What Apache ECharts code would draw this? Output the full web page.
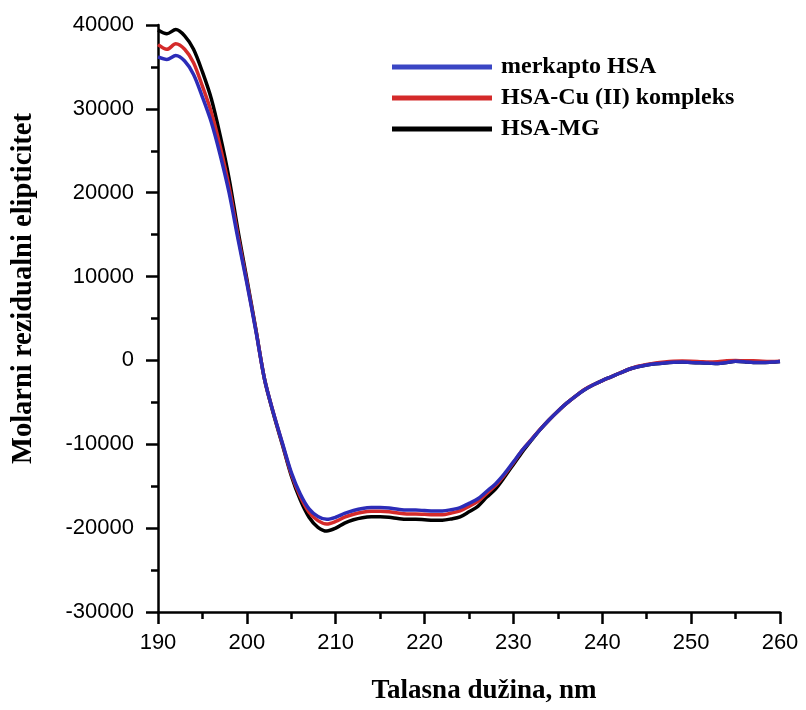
<!DOCTYPE html>
<html>
<head>
<meta charset="utf-8">
<script src="https://cdn.jsdelivr.net/npm/echarts@6/dist/echarts.min.js"></script>
<style>html,body{margin:0;padding:0;background:#fff;}#c{width:806px;height:710px;}</style>
</head>
<body>
<div id="c"></div>
<script>
const wavelength = [190,191,192,193,194,195,196,197,198,199,200,201,202,203,204,205,206,207,208,209,210,211,212,213,214,215,216,217,218,219,220,221,222,223,224,225,226,227,228,229,230,231,232,233,234,235,236,237,238,239,240,241,242,243,244,245,246,247,248,249,250,251,252,253,254,255,256,257,258,259,260];

const merkaptoHSA = [36200,35900,36350,35700,34100,31400,28400,24500,20000,14500,9200,3600,-2300,-6300,-9850,-13350,-15900,-17700,-18600,-18950,-18700,-18250,-17900,-17650,-17550,-17550,-17600,-17750,-17850,-17850,-17900,-17950,-17950,-17800,-17550,-17050,-16500,-15600,-14700,-13500,-12100,-10700,-9500,-8250,-7100,-6050,-5100,-4250,-3500,-2900,-2400,-1950,-1500,-1050,-750,-550,-400,-300,-230,-200,-250,-280,-320,-360,-250,-100,-150,-250,-250,-200,-120];

const hsaCu = [37650,37100,37750,37100,35500,32700,29600,25500,20700,14900,9400,3700,-2300,-6300,-9950,-13550,-16200,-18100,-19100,-19500,-19200,-18700,-18350,-18100,-18000,-18000,-18050,-18200,-18300,-18300,-18350,-18400,-18400,-18200,-17950,-17400,-16800,-15850,-14900,-13650,-12200,-10700,-9450,-8230,-7100,-6050,-5100,-4250,-3450,-2900,-2400,-1950,-1480,-1050,-700,-480,-300,-180,-100,-80,-100,-150,-200,-150,-50,0,-50,-50,-100,-120,-100];

const hsaMG = [39400,38950,39450,38700,37100,34400,31200,26800,21700,15500,9700,3800,-2300,-6400,-10050,-13750,-16600,-18700,-19900,-20350,-20000,-19400,-19000,-18750,-18650,-18650,-18700,-18850,-18950,-18950,-19000,-19050,-19050,-18900,-18650,-18050,-17400,-16300,-15300,-13900,-12400,-10900,-9550,-8250,-7100,-6050,-5100,-4250,-3500,-2900,-2400,-1950,-1500,-1050,-750,-550,-400,-300,-230,-200,-250,-280,-320,-360,-250,-100,-150,-250,-250,-200,-120];

const seriesNames = ['merkapto HSA', 'HSA-Cu (II) kompleks', 'HSA-MG'];
const xTitle = 'Talasna dužina, nm';
const yTitle = 'Molarni rezidualni elipticitet';

function pairs(vals){ return wavelength.map((w,i)=>[w, vals[i]]); }

const chart = echarts.init(document.getElementById('c'));
const axisCommon = {
  axisLine: {show: true, onZero: false, lineStyle: {color: '#000', width: 2.5}},
  axisTick: {show: true, inside: false, length: 12, lineStyle: {color: '#000', width: 2.5}},
  minorTick: {show: true, splitNumber: 2, length: 7, lineStyle: {color: '#000', width: 2.5}},
  splitLine: {show: false},
  nameLocation: 'middle'
};
chart.setOption({
  backgroundColor: '#fff',
  animation: false,
  grid: {left: 158, right: 26, top: 25, bottom: 97, containLabel: false},
  legend: {
    data: seriesNames,
    orient: 'vertical',
    left: 387, top: 49,
    icon: 'rect',
    itemWidth: 100, itemHeight: 5,
    itemGap: 5,
    textStyle: {fontFamily: 'Liberation Serif', fontWeight: 'bold', fontSize: 24, color: '#000', lineHeight: 26, padding: [0,0,0,4]}
  },
  xAxis: Object.assign({}, axisCommon, {
    type: 'value', min: 190, max: 260, interval: 10,
    name: xTitle, nameGap: 66,
    nameTextStyle: {fontFamily: 'Liberation Serif', fontWeight: 'bold', fontSize: 27, color: '#000', padding: [0,0,0,30]},
    axisLabel: {margin: 20, fontFamily: 'Liberation Sans', fontSize: 22, color: '#000'}
  }),
  yAxis: Object.assign({}, axisCommon, {
    type: 'value', min: -30000, max: 40000, interval: 10000,
    name: yTitle, nameGap: 120,
    nameTextStyle: {fontFamily: 'Liberation Serif', fontWeight: 'bold', fontSize: 28.5, color: '#000', padding: [0,0,0,60]},
    axisLabel: {margin: 24, fontFamily: 'Liberation Sans', fontSize: 22, color: '#000', formatter: v => String(v)}
  }),
  series: [
    {name: seriesNames[2], type: 'line', data: pairs(hsaMG), smooth: 0.3, symbol: 'none', lineStyle: {width: 3.5, color: '#000'}, itemStyle: {color: '#000'}},
    {name: seriesNames[1], type: 'line', data: pairs(hsaCu), smooth: 0.3, symbol: 'none', lineStyle: {width: 3.5, color: '#d42a2a'}, itemStyle: {color: '#d42a2a'}},
    {name: seriesNames[0], type: 'line', data: pairs(merkaptoHSA), smooth: 0.3, symbol: 'none', lineStyle: {width: 3.5, color: '#2c2cb8'}, itemStyle: {color: '#3a46c4'}}
  ]
});
</script>
</body>
</html>
